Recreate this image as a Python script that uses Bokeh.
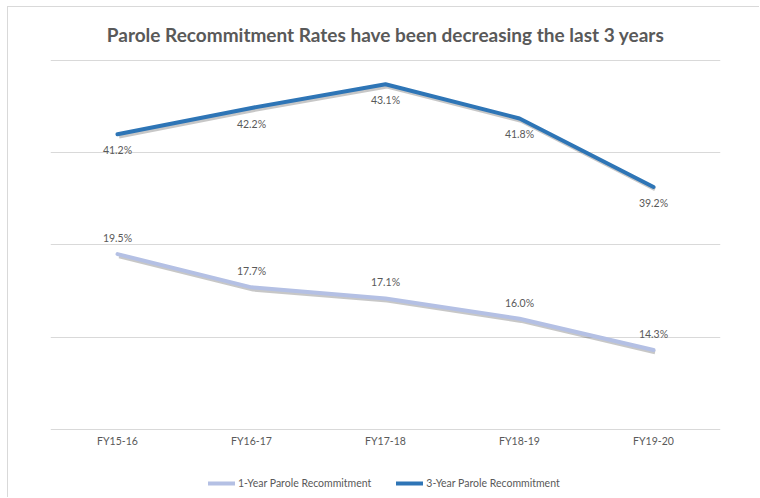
from bokeh.plotting import figure
from bokeh.models import ColumnDataSource, Range1d, Legend, LegendItem, FixedTicker
from bokeh.transform import dodge
from bokeh.core.properties import value
from bokeh.embed import file_html
from bokeh.resources import INLINE

categories = ["FY15-16", "FY16-17", "FY17-18", "FY18-19", "FY19-20"]
one_year = [19.5, 17.7, 17.1, 16.0, 14.3]
three_year = [41.2, 42.2, 43.1, 41.8, 39.2]
one_labels = [f"{v:.1f}%" for v in one_year]
three_labels = [f"{v:.1f}%" for v in three_year]
grid_values = [10, 15, 20, 25, 30]
axis_base = 10

FONT = "Lato"
TXT = "#595959"
C1 = "#B4C0E4"
C3 = "#2E75B6"
SMALL = "10.5px"

src = ColumnDataSource(dict(x=categories, y1=one_year, y3=three_year,
                            l1=one_labels, l3=three_labels))

p = figure(x_range=categories, y_range=Range1d(6.25, 30.054), width=752, height=491,
           output_backend="svg", toolbar_location=None,
           min_border_left=42, min_border_right=40, min_border_top=52, min_border_bottom=0)
# secondary (hidden) scale for the 3-year series: 30%..44% spans the same frame
p.extra_y_ranges = {"sec": Range1d(27.375, 44.038)}

p.title.text = "Parole Recommitment Rates have been decreasing the last 3 years"
p.title.align = "center"
p.title.text_font = FONT
p.title.text_font_size = "19px"
p.title.text_font_style = "bold"
p.title.text_color = TXT
p.title.standoff = 27

p.outline_line_color = None
p.yaxis.visible = False
p.xaxis.visible = False
p.xgrid.grid_line_color = None
p.ygrid.ticker = FixedTicker(ticks=grid_values)
p.ygrid.grid_line_color = "#D9D9D9"
p.ygrid.grid_line_width = 1

# category labels under the base line
p.text(x=categories, y=[axis_base] * len(categories), text=categories,
       text_font=value(FONT), text_font_size=SMALL, text_color=TXT,
       text_align="center", text_baseline="middle", y_offset=12)

# shadows
p.line(x=dodge("x", 0.012, range=p.x_range), y=dodge("y1", -0.12), source=src,
       line_color="#000000", line_alpha=0.22, line_width=4)
p.line(x=dodge("x", 0.012, range=p.x_range), y=dodge("y3", -0.085), source=src,
       line_color="#000000", line_alpha=0.22, line_width=4, y_range_name="sec")

r1 = p.line("x", "y1", source=src, line_color=C1, line_width=4, line_cap="round")
r3 = p.line("x", "y3", source=src, line_color=C3, line_width=4, line_cap="round",
            y_range_name="sec")

p.text("x", "y1", text="l1", source=src, text_font=value(FONT), text_font_size=SMALL,
       text_color=TXT, text_align="center", text_baseline="middle", y_offset=-16)
p.text("x", "y3", text="l3", source=src, text_font=value(FONT), text_font_size=SMALL,
       text_color=TXT, text_align="center", text_baseline="middle", y_offset=16,
       y_range_name="sec")

legend = Legend(items=[LegendItem(label="1-Year Parole Recommitment", renderers=[r1]),
                       LegendItem(label="3-Year Parole Recommitment", renderers=[r3])],
                orientation="horizontal", location=(158, 9))
legend.label_text_font = FONT
legend.label_text_font_size = SMALL
legend.label_text_color = TXT
legend.glyph_width = 27
legend.glyph_height = 10
legend.label_height = 12
legend.label_standoff = 3
legend.spacing = 25
legend.border_line_color = None
legend.background_fill_alpha = 0
legend.padding = 0
legend.margin = 0
p.add_layout(legend)

p.styles = {"margin-left": "7px", "margin-top": "6px",
            "border-left": "1px solid #D9D9D9", "border-top": "1px solid #D9D9D9"}

open("out.html", "w").write(file_html(p, INLINE))
